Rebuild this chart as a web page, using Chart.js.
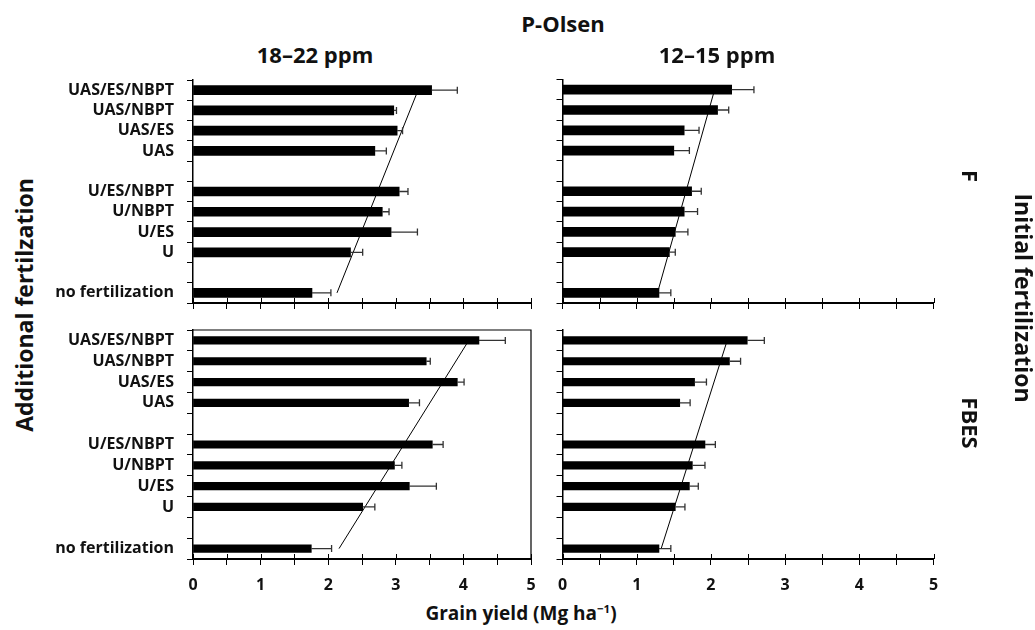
<!DOCTYPE html>
<html>
<head>
<meta charset="utf-8">
<script src="https://cdn.jsdelivr.net/npm/chart.js@4.4.0/dist/chart.umd.min.js"></script>
<style>
body { margin: 0; background: #fff; }
#wrap { position: relative; width: 1035px; height: 630px; font-family: "Open Sans", sans-serif; font-weight: bold; color: #111; }
canvas { position: absolute; }
.t { position: absolute; white-space: nowrap; transform: translate(-50%, -50%); }
.r90 { transform: translate(-50%, -50%) rotate(90deg); }
.r270 { transform: translate(-50%, -50%) rotate(-90deg); }
sup { font-size: 60%; line-height: 0; }
</style>
</head>
<body>
<div id="wrap">
  <canvas id="tl" width="510" height="248" style="left:40px;top:70px;width:510px;height:248px"></canvas>
  <canvas id="tr" width="410" height="248" style="left:548px;top:70px;width:410px;height:248px"></canvas>
  <canvas id="bl" width="510" height="279" style="left:40px;top:320px;width:510px;height:279px"></canvas>
  <canvas id="br" width="410" height="279" style="left:548px;top:320px;width:410px;height:279px"></canvas>

  <div class="t" style="left:563px;top:23px;font-size:22px">P-Olsen</div>
  <div class="t" style="left:315px;top:54px;font-size:22px">18–22 ppm</div>
  <div class="t" style="left:717px;top:54px;font-size:22px">12–15 ppm</div>
  <div class="t r270" style="left:24px;top:305px;font-size:23px">Additional fertilzation</div>
  <div class="t" style="left:521px;top:613px;font-size:19px">Grain yield (Mg ha<sup>−1</sup>)</div>
  <div class="t r90" style="left:971px;top:176px;font-size:22px">F</div>
  <div class="t r90" style="left:971px;top:423px;font-size:22px">FBES</div>
  <div class="t r90" style="left:1024px;top:298px;font-size:23px">Initial fertilization</div>
</div>
<script>
var categories = ['UAS/ES/NBPT', 'UAS/NBPT', 'UAS/ES', 'UAS', '', 'U/ES/NBPT', 'U/NBPT', 'U/ES', 'U', '', 'no fertilization'];
var xTicks = [0, 1, 2, 3, 4, 5];

// grain yield (Mg/ha) and error, null = empty spacer row
var yieldF_hi = [3.53, 2.97, 3.02, 2.69, null, 3.05, 2.80, 2.93, 2.33, null, 1.76];
var errF_hi   = [0.38, 0.04, 0.08, 0.17, null, 0.13, 0.10, 0.39, 0.18, null, 0.28];
var yieldF_lo = [2.28, 2.09, 1.64, 1.50, null, 1.74, 1.64, 1.52, 1.44, null, 1.30];
var errF_lo   = [0.30, 0.15, 0.20, 0.21, null, 0.13, 0.18, 0.17, 0.08, null, 0.16];
var yieldFBES_hi = [4.23, 3.45, 3.91, 3.19, null, 3.54, 2.98, 3.20, 2.51, null, 1.75];
var errFBES_hi   = [0.39, 0.06, 0.10, 0.16, null, 0.16, 0.11, 0.40, 0.18, null, 0.30];
var yieldFBES_lo = [2.49, 2.25, 1.78, 1.58, null, 1.92, 1.75, 1.71, 1.52, null, 1.30];
var errFBES_lo   = [0.23, 0.15, 0.16, 0.14, null, 0.14, 0.17, 0.12, 0.13, null, 0.16];

// trend line: value at "no fertilization", value at "UAS/ES/NBPT"
var trendF_hi = [2.13, 3.33];
var trendF_lo = [1.28, 2.05];
var trendFBES_hi = [2.16, 4.08];
var trendFBES_lo = [1.33, 2.22];

Chart.defaults.font.family = '"Open Sans", sans-serif';
Chart.defaults.color = '#111';

// draws the error bars from the bar end
var errorBars = {
  id: 'errorBars',
  afterDatasetsDraw: function(chart) {
    var ds = chart.data.datasets[0];
    var meta = chart.getDatasetMeta(0);
    var xs = chart.scales.x;
    var ctx = chart.ctx;
    ctx.save();
    ctx.strokeStyle = '#333';
    ctx.lineWidth = 1.3;
    meta.data.forEach(function(bar, i) {
      var v = ds.data[i], e = ds.err[i];
      if (v == null || e == null) return;
      var x0 = xs.getPixelForValue(v), x1 = xs.getPixelForValue(v + e);
      ctx.beginPath();
      ctx.moveTo(x0, bar.y); ctx.lineTo(x1, bar.y);
      ctx.moveTo(x1, bar.y - ds.errCap); ctx.lineTo(x1, bar.y + ds.errCap);
      ctx.stroke();
    });
    ctx.restore();
  }
};

// box around the plot area (only lower left panel has it)
var frame = {
  id: 'frame',
  afterDraw: function(chart) {
    var a = chart.chartArea, ctx = chart.ctx;
    ctx.save();
    ctx.strokeStyle = '#000';
    ctx.lineWidth = 1.2;
    ctx.beginPath();
    ctx.moveTo(a.left, a.top); ctx.lineTo(a.right, a.top); ctx.lineTo(a.right, a.bottom);
    ctx.stroke();
    ctx.restore();
  }
};

// x ticks cross the axis line: draw the inner half too
var innerTicks = {
  id: 'innerTicks',
  afterDraw: function(chart) {
    var xs = chart.scales.x, ctx = chart.ctx, y = chart.chartArea.bottom;
    ctx.save();
    ctx.strokeStyle = '#000';
    ctx.lineWidth = 1;
    xs.ticks.forEach(function(t) {
      var x = Math.round(xs.getPixelForValue(t.value)) + 0.5;
      ctx.beginPath();
      ctx.moveTo(x, y); ctx.lineTo(x, y - 5);
      ctx.stroke();
    });
    ctx.restore();
  }
};

function makePanel(id, values, errs, trend, o) {
  var plugins = [errorBars, innerTicks];
  if (o.box) plugins.push(frame);
  return new Chart(document.getElementById(id), {
    type: 'bar',
    data: {
      labels: categories,
      datasets: [{
        data: values,
        err: errs,
        errCap: o.cap,
        backgroundColor: '#000',
        barThickness: o.bar,
        indexAxis: 'y',
        order: 2
      }, {
        type: 'line',
        indexAxis: 'y',
        data: [{ x: trend[0], y: 'no fertilization' }, { x: trend[1], y: 'UAS/ES/NBPT' }],
        borderColor: '#000',
        borderWidth: 1,
        pointRadius: 0,
        fill: false,
        order: 1
      }]
    },
    options: {
      indexAxis: 'y',
      responsive: false,
      maintainAspectRatio: false,
      animation: false,
      layout: { padding: { left: 0, top: o.padTop, right: o.padRight, bottom: 0 } },
      plugins: { legend: { display: false }, tooltip: { enabled: false } },
      scales: {
        y: {
          type: 'category',
          offset: true,
          grid: { offset: true, drawOnChartArea: false, tickLength: 6, color: '#000', lineWidth: 1 },
          border: { color: '#000', width: 1.5 },
          ticks: { display: o.labels, autoSkip: false, padding: 13, color: '#111', font: { size: 16, weight: 'bold' } },
          afterFit: function(s) {
            s.width = o.yWidth;
            s.paddingTop = 0;
            s.paddingBottom = 0;
          }
        },
        x: {
          type: 'linear',
          min: 0,
          max: 5,
          grid: { drawOnChartArea: false, tickLength: 6, color: '#000', lineWidth: 1 },
          border: { color: '#000', width: 2 },
          ticks: {
            display: o.xLabels,
            stepSize: 0.5,
            autoSkip: false,
            maxRotation: 0,
            padding: 11,
            color: '#111',
            font: { size: 16, weight: 'bold' },
            callback: function(v) { return xTicks.indexOf(v) >= 0 ? v : ''; }
          },
          afterFit: function(s) {
            s.height = o.xHeight;
            s.paddingLeft = 0;
            s.paddingRight = 0;
          }
        }
      }
    },
    plugins: plugins
  });
}

makePanel('tl', yieldF_hi, errF_hi, trendF_hi,
  { labels: true, xLabels: false, yWidth: 153, padTop: 10, padRight: 19, xHeight: 15, bar: 9, cap: 3.5, box: false });
makePanel('tr', yieldF_lo, errF_lo, trendF_lo,
  { labels: false, xLabels: false, yWidth: 14.5, padTop: 9.5, padRight: 24.5, xHeight: 15, bar: 9, cap: 3.5, box: false });
makePanel('bl', yieldFBES_hi, errFBES_hi, trendFBES_hi,
  { labels: true, xLabels: true, yWidth: 153, padTop: 10, padRight: 19, xHeight: 40, bar: 7.5, cap: 3.5, box: true });
makePanel('br', yieldFBES_lo, errFBES_lo, trendFBES_lo,
  { labels: false, xLabels: true, yWidth: 14.5, padTop: 10, padRight: 24.5, xHeight: 40, bar: 7.5, cap: 3.5, box: false });
</script>
</body>
</html>
